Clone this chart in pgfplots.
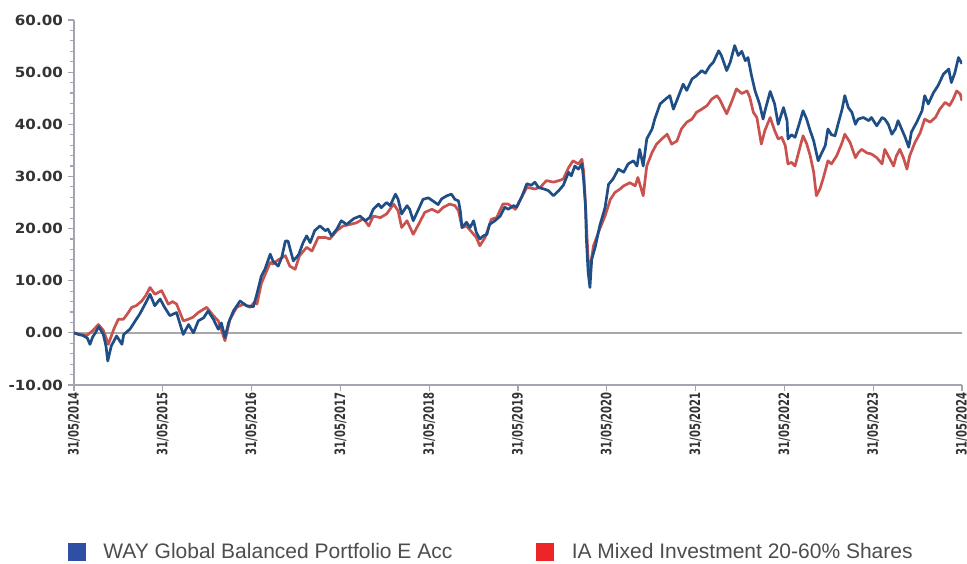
\documentclass[border=0pt]{standalone}
\usepackage{pgfplots}
\pgfplotsset{compat=1.18}
\usepackage{fontspec}
\setmainfont{Liberation Sans}
\newfontfamily\ylab[FakeStretch=1.08]{DejaVu Sans Bold}
\newfontfamily\xlab[FakeStretch=0.7]{DejaVu Sans Bold}
\definecolor{wayblue}{HTML}{1F4E86}
\definecolor{iared}{HTML}{C9524E}
\definecolor{legblue}{HTML}{2E4FA3}
\definecolor{legred}{HTML}{EE2526}
\definecolor{axgray}{HTML}{A3A6B2}
\definecolor{zgray}{HTML}{A8A8A8}
\definecolor{labgray}{HTML}{333333}
\definecolor{leggray}{HTML}{4D4D4D}
\begin{document}
\begin{tikzpicture}
\begin{axis}[
  at={(74pt,178pt)}, anchor=south west,
  scale only axis, width=888pt, height=365pt,
  xmin=0, xmax=10, ymin=-10, ymax=60,
  axis x line*=bottom, axis y line*=left,
  axis line style={draw=axgray, line width=1.4pt},
  every tick/.style={draw=axgray, line width=1.2pt},
  tick align=outside,
  major tick length=6pt, minor tick length=3.5pt,
  xtick={0,1,...,10},
  xticklabels={31/05/2014,31/05/2015,31/05/2016,31/05/2017,31/05/2018,31/05/2019,31/05/2020,31/05/2021,31/05/2022,31/05/2023,31/05/2024},
  x tick label style={rotate=90, anchor=east, font=\xlab\fontsize{14.3}{15}\selectfont, text=labgray, inner sep=1pt},
  ytick={-10,0,...,60},
  yticklabels={-10.00,0.00,10.00,20.00,30.00,40.00,50.00,60.00},
  minor y tick num=4,
  y tick label style={font=\ylab\fontsize{14}{15}\selectfont, text=labgray, inner sep=1pt, xshift=-4pt},
  legend columns=2,
  legend style={at={(-0.007,-0.4575)}, anchor=west, draw=none, fill=none,
    inner sep=0pt, font=\fontsize{21}{22}\selectfont, text=leggray,
    nodes={inner sep=0pt},
    /tikz/every odd column/.append style={column sep=18pt},
    /tikz/every even column/.append style={column sep=84pt}},
  legend image code/.code={\fill[#1] (0pt,-8.5pt) rectangle (17pt,8.5pt);},
]
\addlegendimage{legblue}
\addlegendentry{WAY Global Balanced Portfolio E Acc}
\addlegendimage{legred}
\addlegendentry{IA Mixed Investment 20-60\% Shares}
\addplot[zgray, line width=1.3pt, forget plot] coordinates {(0,0) (10,0)};
\addplot[iared, line width=2.7pt, line join=round, forget plot] coordinates {
(0,0) (0.07,-0.3) (0.143,-0.5) (0.21,0.4) (0.274,1.6) (0.33,0.5) (0.387,-2.2) (0.45,0.8)
(0.499,2.6) (0.556,2.6) (0.6,3.6) (0.65,4.9) (0.70,5.2) (0.762,6.1) (0.81,7.2) (0.856,8.7) (0.912,7.4)
(0.987,8.1) (1.062,5.5) (1.11,6.0) (1.156,5.5) (1.231,2.3) (1.287,2.6) (1.34,3.0) (1.40,3.9)
(1.494,4.9) (1.569,3.3) (1.625,2.3) (1.70,-1.5) (1.757,2.6) (1.832,4.9) (1.907,5.5)
(1.982,4.9) (2.038,6.0) (2.06,5.5) (2.11,9.5) (2.16,11.5) (2.21,13.5) (2.24,13.2) (2.30,14.0)
(2.38,14.8) (2.43,12.8) (2.49,12.2) (2.54,14.8) (2.62,16.4) (2.68,15.7) (2.75,18.3)
(2.83,18.3) (2.88,18.0) (2.96,19.6) (3.03,20.5) (3.11,20.8) (3.18,21.1) (3.26,21.9)
(3.32,20.5) (3.37,22.4) (3.45,22.1) (3.52,22.8) (3.60,24.7) (3.65,23.4) (3.69,20.2)
(3.75,21.5) (3.82,18.9) (3.88,20.8) (3.95,23.1) (4.03,23.7) (4.10,23.1) (4.16,24.1)
(4.23,24.7) (4.29,24.4) (4.33,23.4) (4.37,20.2) (4.42,20.5) (4.48,19.3) (4.53,18.3)
(4.57,16.7) (4.63,18.3) (4.70,21.8) (4.76,22.1) (4.83,24.7) (4.89,24.7) (4.97,23.7)
(5.04,26.0) (5.10,27.9) (5.19,27.6) (5.25,27.9) (5.32,29.2) (5.40,28.9) (5.46,29.2)
(5.51,29.5) (5.57,31.7) (5.62,33.0) (5.68,32.4) (5.72,33.3) (5.74,30.8) (5.76,24.4)
(5.79,14.0) (5.81,12.2) (5.85,16.7) (5.92,19.9) (5.98,22.4) (6.04,25.6) (6.09,26.9)
(6.15,27.6) (6.19,28.2) (6.26,28.8) (6.32,28.2) (6.35,29.8) (6.41,26.3) (6.45,32.0)
(6.51,34.6) (6.56,36.2) (6.62,37.2) (6.68,38.1) (6.73,36.2) (6.79,36.8) (6.84,39.1)
(6.90,40.4) (6.96,41.0) (7.01,42.3) (7.07,42.9) (7.13,43.6) (7.18,44.8) (7.24,45.5)
(7.27,44.8) (7.35,42.0) (7.41,44.5) (7.46,46.8) (7.52,45.9) (7.58,46.4) (7.61,45.2)
(7.65,42.3) (7.69,41.3) (7.74,36.2) (7.78,38.8) (7.84,41.3) (7.89,38.8) (7.93,37.2)
(7.97,37.5) (8.01,35.9) (8.04,32.4) (8.08,32.7) (8.12,32.0) (8.18,35.9) (8.21,37.8)
(8.25,36.3) (8.29,34.0) (8.33,30.8) (8.36,26.3) (8.40,27.6) (8.44,29.8) (8.49,33.0)
(8.53,32.4) (8.59,34.0) (8.65,36.5) (8.68,38.1) (8.74,36.5) (8.80,33.6) (8.83,34.5)
(8.87,35.2) (8.93,34.5) (8.98,34.3) (9.04,33.6) (9.10,32.4) (9.13,35.2) (9.19,33.3)
(9.23,32.0) (9.26,33.9) (9.30,35.2) (9.34,33.6) (9.38,31.4) (9.41,33.9) (9.47,36.5)
(9.53,38.4) (9.58,41.0) (9.64,40.4) (9.70,41.3) (9.75,42.9) (9.81,44.2) (9.86,43.6)
(9.90,44.8) (9.94,46.4) (9.98,45.8) (10.0,44.5)
};
\addplot[wayblue, line width=2.7pt, line join=round, forget plot] coordinates {
(0,0) (0.05,-0.3) (0.10,-0.5) (0.15,-1.0) (0.18,-2.2) (0.21,-0.8) (0.24,0) (0.28,1.2)
(0.33,-0.3) (0.36,-2.5) (0.38,-5.4) (0.42,-2.5) (0.48,-0.6) (0.54,-2.2) (0.56,-0.3)
(0.63,0.7) (0.69,2.3) (0.74,3.6) (0.80,5.5) (0.856,7.4) (0.91,5.2) (0.97,6.5) (1.02,4.9)
(1.08,3.3) (1.155,3.9) (1.23,-0.3) (1.29,1.6) (1.345,0) (1.40,2.3) (1.46,2.9) (1.51,4.2)
(1.57,2.6) (1.625,0.7) (1.66,1.9) (1.70,-0.9) (1.74,1.9) (1.795,4.2) (1.87,6.1)
(1.945,5.2) (2.02,5.0) (2.06,7.5) (2.11,10.9) (2.15,12.2) (2.21,15.1) (2.24,13.8)
(2.30,12.8) (2.34,14.5) (2.38,17.6) (2.41,17.6) (2.47,13.8) (2.53,15.0) (2.58,17.3)
(2.62,18.6) (2.66,17.3) (2.71,19.6) (2.77,20.5) (2.83,19.6) (2.86,19.9) (2.90,18.6)
(2.96,19.9) (3.01,21.5) (3.07,20.8) (3.15,21.9) (3.22,22.4) (3.28,21.5) (3.33,22.1)
(3.37,23.7) (3.43,24.7) (3.46,24.0) (3.52,25.0) (3.56,24.4) (3.62,26.6) (3.65,25.6)
(3.69,22.8) (3.75,24.4) (3.78,23.7) (3.82,21.5) (3.88,23.7) (3.93,25.6) (3.99,25.9)
(4.05,25.2) (4.10,24.6) (4.14,25.7) (4.20,26.3) (4.25,26.6) (4.29,25.6) (4.33,25.3)
(4.35,23.4) (4.37,20.2) (4.42,21.2) (4.46,20.2) (4.50,21.5) (4.53,19.3) (4.57,18.0)
(4.61,18.6) (4.65,18.9) (4.68,20.8) (4.74,21.5) (4.80,22.4) (4.85,24.1) (4.89,23.7)
(4.95,24.4) (4.985,24.1) (5.04,26.0) (5.10,28.6) (5.15,28.3) (5.19,28.9) (5.23,27.9)
(5.29,27.6) (5.34,27.3) (5.40,26.3) (5.46,27.3) (5.51,28.3) (5.57,30.8) (5.60,30.1)
(5.64,32.0) (5.68,31.4) (5.72,32.4) (5.74,29.2) (5.76,24.4) (5.77,18.0) (5.79,11.6)
(5.81,8.7) (5.83,14.1) (5.87,16.5) (5.92,20.5) (5.98,24.0) (6.02,28.5) (6.07,29.5)
(6.13,31.4) (6.19,30.8) (6.24,32.4) (6.30,33.0) (6.34,32.0) (6.37,35.2) (6.41,32.0)
(6.45,37.2) (6.51,39.1) (6.54,41.0) (6.60,43.9) (6.66,44.8) (6.71,45.5) (6.75,42.9)
(6.81,45.5) (6.86,47.7) (6.90,46.5) (6.96,48.7) (7.01,49.3) (7.07,50.3) (7.11,49.8)
(7.16,51.2) (7.20,51.9) (7.26,54.1) (7.29,53.2) (7.35,50.3) (7.39,51.9) (7.44,55.1)
(7.48,53.2) (7.52,54.0) (7.56,52.2) (7.59,52.8) (7.63,49.3) (7.67,46.4) (7.72,43.9)
(7.76,41.0) (7.78,42.5) (7.84,46.3) (7.89,43.9) (7.93,40.0) (7.99,43.2) (8.03,40.7)
(8.04,37.2) (8.08,38.0) (8.12,37.5) (8.16,39.7) (8.21,42.6) (8.25,41.0) (8.29,38.8)
(8.33,36.8) (8.38,33.0) (8.42,34.5) (8.46,35.9) (8.49,39.1) (8.53,38.0) (8.57,37.8)
(8.61,40.4) (8.65,42.9) (8.68,45.5) (8.72,43.2) (8.76,42.3) (8.80,40.0) (8.83,41.0)
(8.89,41.3) (8.95,40.7) (8.98,41.3) (9.04,39.7) (9.10,41.3) (9.13,41.0) (9.17,40.0)
(9.21,38.1) (9.25,39.1) (9.28,40.7) (9.32,39.1) (9.36,37.5) (9.40,35.6) (9.43,38.5)
(9.49,40.4) (9.55,42.6) (9.58,45.5) (9.62,43.9) (9.68,46.1) (9.73,47.4) (9.79,49.6)
(9.85,50.6) (9.88,48.0) (9.92,49.9) (9.96,52.8) (10.0,51.6)
};
\end{axis}
\pgfresetboundingbox
\path[use as bounding box] (0pt,0pt) rectangle (967pt,563pt);
\end{tikzpicture}
\end{document}
